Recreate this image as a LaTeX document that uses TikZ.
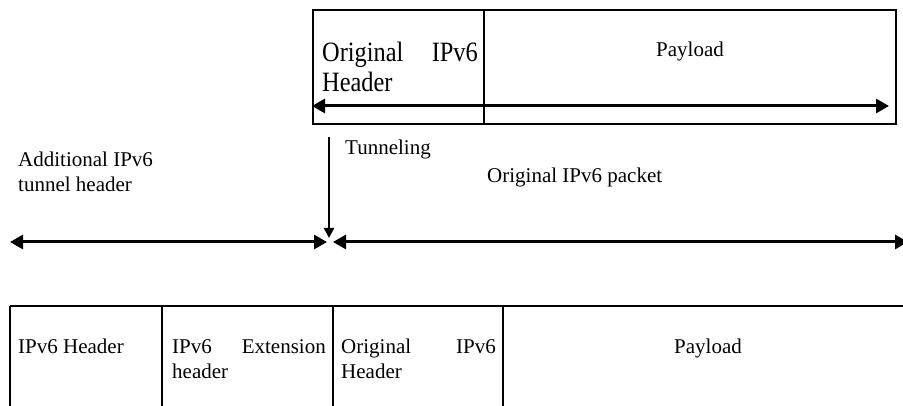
\documentclass[tikz,border=0pt]{standalone}
\usepackage{fontspec}
\setmainfont{Liberation Serif}
\usetikzlibrary{arrows.meta}
\begin{document}
\begin{tikzpicture}[x=1pt,y=-1pt,
  txt/.style={inner sep=0pt, font=\fontsize{21}{25}\selectfont},
  big/.style={inner sep=0pt, font=\fontsize{28}{30}\selectfont},
  thinline/.style={line width=1.4pt},
  thickline/.style={line width=2.5pt},
  dimarrow/.style={line width=3pt, {Triangle[length=13pt,width=14pt]}-{Triangle[length=13pt,width=14pt]}},
  downarrow/.style={line width=2.4pt, -{Triangle[length=10pt,width=10pt]}}
  ]
\useasboundingbox (0,0) rectangle (903,406);

% ---------- top packet ----------
\draw[thinline] (313,10) rectangle (896,124);
\draw[thinline] (484,10) -- (484,124);
\node[big, anchor=base west] (toh1) at (322,62) {\scalebox{0.87}[1]{Original}};
\node[big, anchor=base east] (toh2) at (478,62) {\scalebox{0.87}[1]{IPv6}};
\node[big, anchor=base west] (toh3) at (322,92) {\scalebox{0.87}[1]{Header}};
\node[txt, anchor=base] (tpay) at (690,57) {Payload};
\coordinate (ta) at (312,106);
\coordinate (tb) at (889,106);
\draw[dimarrow] (ta) -- (tb);

% ---------- tunneling ----------
\coordinate (vs) at (329,137);
\coordinate (ve) at (329,238);
\draw[downarrow] (vs) -- (ve);
\node[txt, anchor=base west] (tun) at (345,155) {Tunneling};

\node[txt, anchor=base west] (add1) at (18,167) {Additional IPv6};
\node[txt, anchor=base west] (add2) at (18,192) {tunnel header};
\node[txt, anchor=base west] (opk) at (487,183) {Original IPv6 packet};

\coordinate (la) at (10,242);
\coordinate (lb) at (327,242);
\coordinate (ra) at (333,242);
\coordinate (rb) at (908,242);
\draw[dimarrow] (la) -- (lb);
\draw[dimarrow] (ra) -- (rb);

% ---------- bottom packet ----------
\draw[thickline] (10,306) -- (903,306);
\foreach \xx in {10,162,333,503} {\draw[thickline] (\xx,306) -- (\xx,407);}
\node[txt, anchor=base west] (b1) at (18,353) {IPv6 Header};
\node[txt, anchor=base west] (b2a) at (172,353) {IPv6};
\node[txt, anchor=base east] (b2b) at (326,353) {Extension};
\node[txt, anchor=base west] (b2c) at (172,378) {header};
\node[txt, anchor=base west] (b3a) at (341,353) {Original};
\node[txt, anchor=base east] (b3b) at (496,353) {IPv6};
\node[txt, anchor=base west] (b3c) at (341,378) {Header};
\node[txt, anchor=base] (b4) at (708,353) {Payload};
\end{tikzpicture}
\end{document}
